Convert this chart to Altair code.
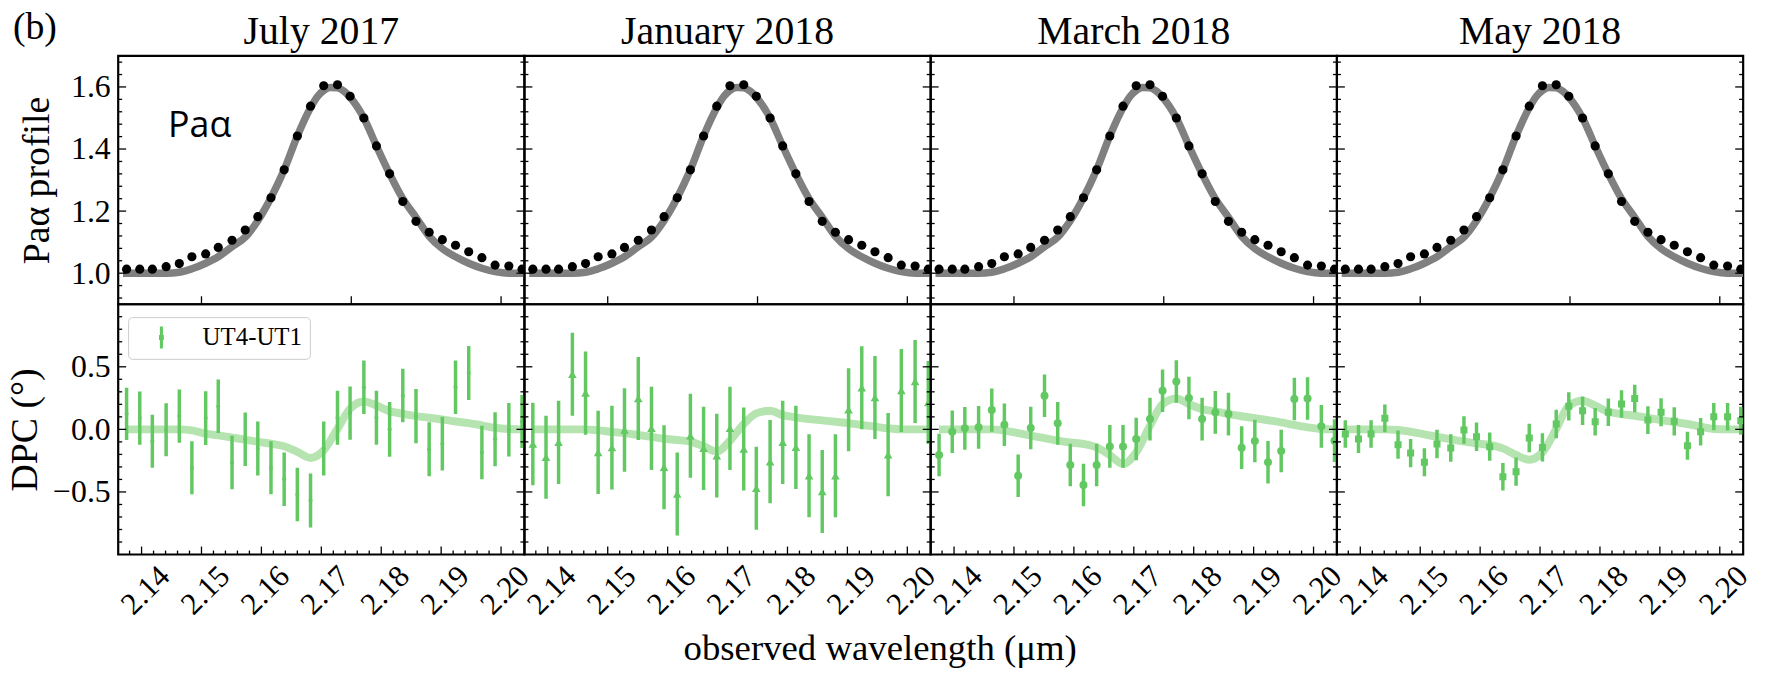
import altair as alt
import pandas as pd

SERIF = "Liberation Serif"
GREEN = "#62c862"
BAND = "#b5e4b0"

MONTHS = ["July 2017", "January 2018", "March 2018", "May 2018"]

WAVELENGTH = [2.1375, 2.1397, 2.1418, 2.1441, 2.1463, 2.1484, 2.1507, 2.1528, 2.1551, 2.1573,
              2.1594, 2.1616, 2.1638, 2.1660, 2.1682, 2.1704, 2.1727, 2.1748, 2.1771, 2.1792,
              2.1814, 2.1836, 2.1858, 2.1880, 2.1902, 2.1924, 2.1946, 2.1968, 2.1990, 2.2013, 2.2035]

PROFILE = [1.013, 1.013, 1.013, 1.021, 1.031, 1.053, 1.062, 1.083, 1.106, 1.139,
           1.182, 1.243, 1.333, 1.442, 1.538, 1.604, 1.607, 1.570, 1.500, 1.410,
           1.320, 1.231, 1.167, 1.132, 1.108, 1.090, 1.069, 1.050, 1.026, 1.023, 1.013]

MODEL_WAVELENGTH = [2.1369, 2.1375, 2.1418, 2.1441, 2.1463, 2.1484, 2.1507, 2.1528, 2.1551, 2.1573,
                    2.1594, 2.1616, 2.1638, 2.1660, 2.1682, 2.1694, 2.1704, 2.1715, 2.1727, 2.1738,
                    2.1748, 2.1771, 2.1792, 2.1814, 2.1836, 2.1858, 2.1880, 2.1902, 2.1924, 2.1946,
                    2.1968, 2.1990, 2.2013, 2.2039]
MODEL_PROFILE = [1.000, 1.000, 1.000, 1.000, 1.003, 1.014, 1.032, 1.053, 1.085, 1.116,
                 1.169, 1.243, 1.333, 1.442, 1.533, 1.570, 1.589, 1.598, 1.597, 1.586,
                 1.567, 1.500, 1.410, 1.320, 1.240, 1.180, 1.119, 1.079, 1.053, 1.032,
                 1.016, 1.005, 1.000, 1.000]

DPC_JUL = [0.124, 0.090, -0.095, -0.003, 0.106, -0.307, 0.090, 0.185, -0.265, -0.079,
           -0.153, -0.307, -0.399, -0.521, -0.569, -0.153, 0.093, 0.130, 0.336, 0.093,
           0.000, 0.270, 0.106, -0.159, -0.114, 0.336, 0.450, -0.185, -0.079, -0.003, 0.063]
ERR_JUL = [0.209, 0.212, 0.212, 0.212, 0.212, 0.212, 0.214, 0.214, 0.214, 0.214,
           0.216, 0.212, 0.214, 0.214, 0.216, 0.216, 0.216, 0.212, 0.214, 0.216,
           0.218, 0.214, 0.216, 0.216, 0.214, 0.214, 0.216, 0.214, 0.216, 0.214, 0.212]
MODEL_JUL = [0.0, 0.0, 0.0, 0.0, 0.0, -0.008, -0.034, -0.048, -0.066, -0.082,
             -0.100, -0.114, -0.135, -0.180, -0.228, -0.167, 0.005, 0.164, 0.222, 0.190,
             0.146, 0.124, 0.106, 0.093, 0.079, 0.063, 0.050, 0.032, 0.013, 0.003, 0.0]

DPC_JAN = [-0.117, -0.223, -0.104, 0.441, 0.290, -0.184, -0.146, -0.005, 0.247, 0.008,
           -0.303, -0.516, -0.051, -0.152, -0.210, 0.008, -0.157, -0.471, -0.258, -0.104,
           -0.144, -0.370, -0.497, -0.370, 0.157, 0.332, 0.255, -0.202, 0.311, 0.383, 0.215]
ERR_JAN = [0.330, 0.332, 0.332, 0.332, 0.332, 0.332, 0.335, 0.334, 0.332, 0.332,
           0.335, 0.332, 0.335, 0.332, 0.335, 0.332, 0.332, 0.332, 0.332, 0.332,
           0.332, 0.332, 0.332, 0.332, 0.332, 0.332, 0.332, 0.332, 0.332, 0.332, 0.332]
MODEL_JAN = [0.0, 0.0, 0.0, 0.0, 0.0, -0.008, -0.020, -0.030, -0.045, -0.060,
             -0.075, -0.085, -0.098, -0.135, -0.178, -0.090, 0.043, 0.128, 0.149, 0.114,
             0.096, 0.082, 0.072, 0.061, 0.050, 0.035, 0.022, 0.008, 0.0, 0.0, 0.0]

DPC_MAR = [-0.205, -0.019, 0.008, 0.016, 0.154, 0.037, -0.370, 0.011, 0.269, 0.048,
           -0.285, -0.444, -0.285, -0.136, -0.136, -0.077, 0.082, 0.309, 0.383, 0.250,
           0.082, 0.136, 0.122, -0.146, -0.093, -0.263, -0.173, 0.242, 0.247, 0.024, -0.090]
ERR_MAR = [0.170, 0.170, 0.170, 0.170, 0.173, 0.170, 0.170, 0.170, 0.170, 0.170,
           0.170, 0.170, 0.170, 0.170, 0.170, 0.170, 0.170, 0.170, 0.170, 0.170,
           0.170, 0.170, 0.170, 0.170, 0.170, 0.170, 0.170, 0.170, 0.170, 0.170, 0.170]
MODEL_MAR = [0.0, 0.0, 0.0, 0.0, 0.0, -0.010, -0.030, -0.050, -0.070, -0.090,
             -0.105, -0.117, -0.144, -0.205, -0.277, -0.183, 0.029, 0.202, 0.247, 0.202,
             0.162, 0.144, 0.122, 0.105, 0.090, 0.073, 0.056, 0.035, 0.016, 0.003, 0.0]

DPC_MAY = [-0.037, -0.077, -0.037, 0.088, -0.122, -0.189, -0.263, -0.117, -0.149, -0.005,
           -0.059, -0.138, -0.378, -0.338, -0.069, -0.144, 0.043, 0.184, 0.149, 0.061,
           0.136, 0.202, 0.247, 0.074, 0.136, 0.064, -0.130, -0.019, 0.101, 0.101, 0.069]
ERR_MAY = [0.110, 0.112, 0.110, 0.110, 0.113, 0.113, 0.112, 0.113, 0.110, 0.110,
           0.113, 0.113, 0.110, 0.113, 0.113, 0.113, 0.113, 0.113, 0.114, 0.110,
           0.110, 0.110, 0.110, 0.110, 0.112, 0.113, 0.112, 0.109, 0.109, 0.110, 0.112]
MODEL_MAY = [0.0, 0.0, 0.0, 0.0, -0.005, -0.019, -0.040, -0.059, -0.080, -0.098,
             -0.112, -0.125, -0.152, -0.205, -0.242, -0.183, 0.003, 0.189, 0.229, 0.189,
             0.141, 0.122, 0.109, 0.092, 0.074, 0.058, 0.043, 0.021, 0.003, 0.0, 0.0]

DPC_SETS = [DPC_JUL, DPC_JAN, DPC_MAR, DPC_MAY]
ERR_SETS = [ERR_JUL, ERR_JAN, ERR_MAR, ERR_MAY]
MODEL_SETS = [MODEL_JUL, MODEL_JAN, MODEL_MAR, MODEL_MAY]
MARKERS = [("circle", 16), ("triangle-up", 75), ("circle", 65), ("square", 50)]

X_DOMAIN = [2.1361, 2.2039]
PROFILE_DOMAIN = [0.9, 1.7]
DPC_DOMAIN = [-1.0, 1.0]

WL_LABELS = [2.14, 2.15, 2.16, 2.17, 2.18, 2.19, 2.20]
WL_MINOR = [2.138, 2.142, 2.144, 2.146, 2.148, 2.152, 2.154, 2.156, 2.158, 2.162, 2.164,
            2.166, 2.168, 2.172, 2.174, 2.176, 2.178, 2.182, 2.184, 2.186, 2.188, 2.192,
            2.194, 2.196, 2.198, 2.202]
PROFILE_WL_TICKS = [2.15, 2.175, 2.20]
PROFILE_MAJOR = [1.0, 1.2, 1.4, 1.6]
PROFILE_MINOR = [0.92, 0.96, 1.04, 1.08, 1.12, 1.16, 1.24, 1.28, 1.32, 1.36, 1.44, 1.48,
                 1.52, 1.56, 1.64, 1.68]
DPC_MAJOR = [-0.5, 0.0, 0.5]
DPC_MINOR = [-0.9, -0.8, -0.7, -0.6, -0.4, -0.3, -0.2, -0.1, 0.1, 0.2, 0.3, 0.4, 0.6,
             0.7, 0.8, 0.9]

W = 409
H_UP = 250
H_LOW = 252
MAJ = 8
MIN = 4

XSCALE = alt.Scale(domain=X_DOMAIN, nice=False, zero=False)


def xenc(field, axis):
    return alt.X(f"{field}:Q", scale=XSCALE, axis=axis, title=None)


def yenc(field, dom, axis):
    return alt.Y(f"{field}:Q", scale=alt.Scale(domain=dom, nice=False, zero=False), axis=axis, title=None)


def y_tick_layers(values, dom, axis, length):
    df = pd.DataFrame({"v": values})
    base = alt.Chart(df).mark_rule(color="black", strokeWidth=1.3)
    left = base.encode(y=yenc("v", dom, axis), x=alt.value(0), x2=alt.value(length))
    right = base.encode(y=yenc("v", dom, axis), x=alt.value(W), x2=alt.value(W - length))
    return [left, right]


def x_tick_layers(values, axis, height, length):
    df = pd.DataFrame({"v": values})
    return [alt.Chart(df).mark_rule(color="black", strokeWidth=1.3).encode(
        x=xenc("v", axis), y=alt.value(height), y2=alt.value(height - length))]


uppers = []
lowers = []
for i, month in enumerate(MONTHS):
    # ---------- upper panel ----------
    if i == 0:
        yax_u = alt.Axis(values=PROFILE_MAJOR, format=".1f", ticks=False, tickSize=0, domain=False,
                         grid=False, labelFont=SERIF, labelFontSize=32, labelColor="black",
                         labelPadding=8, title="Paα profile", titleFont=SERIF, titleFontSize=38,
                         titleFontWeight="normal", titleColor="black", titlePadding=12,
                         minExtent=50, maxExtent=50)
    else:
        yax_u = None
    prof_df = pd.DataFrame({"wl": WAVELENGTH, "p": PROFILE})
    model_df = pd.DataFrame({"wl": MODEL_WAVELENGTH, "p": MODEL_PROFILE})
    layers = []
    layers.append(alt.Chart(model_df).mark_line(color="#808080", strokeWidth=7.5,
                                                interpolate="monotone", clip=True).encode(
        x=xenc("wl", None), y=yenc("p", PROFILE_DOMAIN, yax_u)))
    layers.append(alt.Chart(prof_df).mark_circle(color="black", size=85, opacity=1, clip=True).encode(
        x=xenc("wl", None), y=yenc("p", PROFILE_DOMAIN, yax_u)))
    layers += y_tick_layers(PROFILE_MAJOR, PROFILE_DOMAIN, yax_u, MAJ)
    layers += y_tick_layers(PROFILE_MINOR, PROFILE_DOMAIN, yax_u, MIN)
    layers += x_tick_layers(PROFILE_WL_TICKS, None, H_UP, MAJ)
    # column title
    ttl = pd.DataFrame({"t": [month]})
    layers.append(alt.Chart(ttl).mark_text(font=SERIF, fontSize=40, color="black",
                                           align="center", baseline="alphabetic").encode(
        x=alt.value(W / 2), y=alt.value(-12), text="t:N"))
    if i == 0:
        ann = pd.DataFrame({"wl": [2.1497], "p": [1.44], "t": ["Paα"]})
        layers.append(alt.Chart(ann).mark_text(font="Open Sans", fontSize=36, color="black",
                                               align="center", baseline="alphabetic").encode(
            x=xenc("wl", None), y=yenc("p", PROFILE_DOMAIN, yax_u), text="t:N"))
        lab = pd.DataFrame({"t": ["(b)"]})
        layers.append(alt.Chart(lab).mark_text(font=SERIF, fontSize=38, color="black",
                                               align="left", baseline="alphabetic").encode(
            x=alt.value(-106), y=alt.value(-17), text="t:N"))
    upper = alt.layer(*layers).properties(width=W, height=H_UP)
    uppers.append(upper)

    # ---------- lower panel ----------
    if i == 0:
        yax_l = alt.Axis(values=DPC_MAJOR, format=".1f", ticks=False, tickSize=0, domain=False,
                         grid=False, labelFont=SERIF, labelFontSize=32, labelColor="black",
                         labelPadding=8, title="DPC (°)", titleFont=SERIF, titleFontSize=38,
                         titleFontWeight="normal", titleColor="black", titlePadding=12,
                         minExtent=62, maxExtent=62,
                         labelExpr="replace(format(datum.value, '.1f'), '-', '−')")
    else:
        yax_l = None
    xax_l = alt.Axis(values=WL_LABELS, format=".2f", labelAngle=-45, labelAlign="center",
                     labelBaseline="middle", labelPadding=36, labelOffset=4, ticks=False, tickSize=0,
                     domain=False, grid=False, labelFont=SERIF, labelFontSize=31, labelColor="black",
                     labelOverlap=False, labelFlush=False, title=None)
    d = pd.DataFrame({"wl": WAVELENGTH, "dpc": DPC_SETS[i], "err": ERR_SETS[i],
                      "model": MODEL_SETS[i]})
    d["lo"] = d["dpc"] - d["err"]
    d["hi"] = d["dpc"] + d["err"]
    d["series"] = "UT4-UT1"
    llayers = []
    llayers.append(alt.Chart(d).mark_line(color=BAND, strokeWidth=8, interpolate="monotone",
                                          clip=True).encode(
        x=xenc("wl", xax_l), y=yenc("model", DPC_DOMAIN, yax_l)))
    llayers.append(alt.Chart(d).mark_rule(color=GREEN, strokeWidth=3.5, clip=True).encode(
        x=xenc("wl", xax_l), y=yenc("lo", DPC_DOMAIN, yax_l), y2="hi:Q"))
    shape, size = MARKERS[i]
    if i == 0:
        pts = alt.Chart(d).mark_point(shape=shape, size=size, filled=True, opacity=1, clip=True).encode(
            x=xenc("wl", xax_l), y=yenc("dpc", DPC_DOMAIN, yax_l),
            color=alt.Color("series:N", scale=alt.Scale(domain=["UT4-UT1"], range=[GREEN]),
                            legend=alt.Legend(
                                orient="none", legendX=10, legendY=13, title=None,
                                labelFont=SERIF, labelFontSize=25, labelColor="black",
                                symbolType="M-0.14,-1H0.14V1H-0.14ZM-0.22,-0.22H0.22V0.22H-0.22Z",
                                symbolSize=484, symbolOffset=13, labelOffset=29, padding=8,
                                symbolFillColor=GREEN, symbolStrokeWidth=0, symbolOpacity=1,
                                strokeColor="#cccccc", fillColor="white", cornerRadius=4)))
    else:
        pts = alt.Chart(d).mark_point(shape=shape, size=size, filled=True, opacity=1, color=GREEN,
                                      clip=True).encode(
            x=xenc("wl", xax_l), y=yenc("dpc", DPC_DOMAIN, yax_l))
    llayers.append(pts)
    llayers += y_tick_layers(DPC_MAJOR, DPC_DOMAIN, yax_l, MAJ)
    llayers += y_tick_layers(DPC_MINOR, DPC_DOMAIN, yax_l, MIN)
    llayers += x_tick_layers(WL_LABELS, xax_l, H_LOW, MAJ)
    llayers += x_tick_layers(WL_MINOR, xax_l, H_LOW, MIN)
    lower = alt.layer(*llayers).properties(width=W, height=H_LOW)
    lowers.append(lower)

chart = alt.concat(*uppers, *lowers, columns=4, spacing=0, bounds="flush").resolve_scale(
    color="independent").resolve_legend(color="independent").properties(
    title=alt.TitleParams(text="observed wavelength (μm)", orient="bottom", anchor="middle",
                          frame="bounds", font=SERIF, fontSize=37, fontWeight="normal",
                          color="black", offset=10),
    padding={"left": 5, "right": 12, "top": 5, "bottom": 5},
    background="white",
).configure_view(stroke="black", strokeWidth=2.2)

chart.save("out.html", embed_options={"renderer": "svg", "actions": False})
